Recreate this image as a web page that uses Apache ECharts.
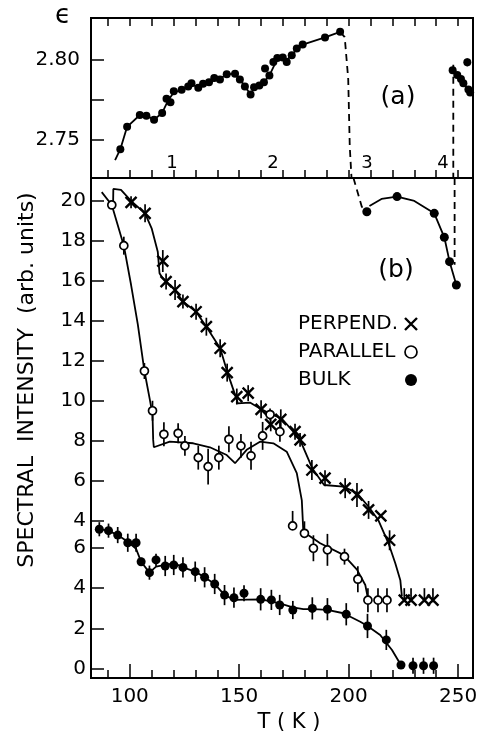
<!DOCTYPE html>
<html>
<head>
<meta charset="utf-8">
<script src="https://cdn.jsdelivr.net/npm/echarts@6/dist/echarts.min.js"></script>
<style>
html, body { margin: 0; padding: 0; background: #fff; }
#chart { width: 478px; height: 731px; }
</style>
</head>
<body>
<div id="chart"></div>
<script>
// axis ticks / labels
const tTicks = [90, 100, 110, 120, 130, 140, 150, 160, 170, 180, 190, 200, 210, 220, 230, 240, 250]
const tLabels = [100, 150, 200, 250]
const epsTicks = [2.75, 2.775, 2.80]
const epsLabels = [2.75, 2.80]
const upperTicks = [4, 6, 8, 10, 12, 14, 16, 18, 20]
const lowerTicks = [0, 2, 4, 6]

// (a) dielectric constant  [T, eps]
const epsData = [[95.7, 2.7439], [98.8, 2.758], [104.6, 2.7654], [107.6, 2.765], [111.1, 2.7625], [114.8, 2.7667],
  [116.8, 2.7756], [118.6, 2.7734], [120.1, 2.7804], [123.7, 2.7813], [126.7, 2.7834], [128.2, 2.7854], [131.3, 2.7825],
  [133.5, 2.785], [136.2, 2.786], [138.6, 2.7886], [141.2, 2.7878], [144.3, 2.791], [148.1, 2.7914], [150.3, 2.7878],
  [152.6, 2.7834], [155.2, 2.7783], [156.8, 2.7829], [159.2, 2.784], [161.3, 2.786], [161.8, 2.7946], [163.8, 2.7903],
  [165.6, 2.7987], [167.4, 2.8013], [169.9, 2.8015], [171.7, 2.7987], [174, 2.803], [176.3, 2.8072], [179, 2.8097],
  [189.2, 2.8142], [196.1, 2.8177]]
const epsCurve = [[93.3, 2.737], [95.7, 2.7439], [98.8, 2.758], [104.6, 2.7654], [107.6, 2.765], [111.1, 2.7625],
  [114.8, 2.7667], [117.5, 2.7745], [120.1, 2.7795], [123.7, 2.7813], [128.2, 2.7845], [131.3, 2.783], [136.2, 2.786],
  [141.2, 2.7882], [144.3, 2.791], [148.1, 2.7914], [150.3, 2.7878], [152.6, 2.7834], [155.2, 2.7783], [156.8, 2.7825],
  [161.3, 2.786], [163.8, 2.7903], [167.4, 2.8005], [169.9, 2.8012], [171.7, 2.8], [174, 2.803], [176.3, 2.8068],
  [179, 2.8097], [189.2, 2.8142], [196.1, 2.8177]]
// region 4 [T, eps, err]
const eps4Data = [[247.5, 2.7935, 0.002], [249.6, 2.7905, 0.002], [251.3, 2.788, 0.002], [252.4, 2.7853, 0.002],
  [254.2, 2.7985, 0.0025], [254.7, 2.7815, 0.002], [255.5, 2.7796, 0.002]]
const eps4Curve = [[247.5, 2.7935], [249.6, 2.7905], [251.3, 2.788], [252.4, 2.7853], [254.7, 2.7815], [255.5, 2.7796]]
const dashA1 = [[196.1, 2.8177], [198.2, 2.8144], [199.8, 2.788], [200.5, 2.7458], [201.3, 2.7258]]
const dashA2 = [[247.8, 2.797], [247.8, 2.7258]]

// (b) spectral intensity, upper scale  [T, I, errDown, errUp]
const perpData = [[100.6, 19.93, 0.3, 0.3], [107.0, 19.38, 0.45, 0.45], [115.1, 16.99, 0.55, 0.55], [116.6, 15.96, 0.4, 0.4],
  [120.7, 15.54, 0.5, 0.5], [124.3, 14.96, 0.35, 0.35], [130.3, 14.45, 0.4, 0.4], [135.0, 13.7, 0.45, 0.45],
  [141.3, 12.62, 0.45, 0.45], [144.5, 11.4, 0.45, 0.45], [148.9, 10.2, 0.4, 0.4], [154.1, 10.37, 0.4, 0.4],
  [160.0, 9.56, 0.45, 0.45], [164.4, 8.81, 0.35, 0.35], [169.0, 9.06, 0.5, 0.5], [175.5, 8.44, 0.4, 0.4],
  [177.8, 8.03, 0.35, 0.35], [183.2, 6.52, 0.5, 0.5], [189.2, 6.11, 0.4, 0.4], [198.4, 5.61, 0.5, 0.5],
  [203.8, 5.27, 0.6, 0.6], [209.1, 4.52, 0.45, 0.45], [214.7, 4.22, 0, 0], [218.7, 3.0, 0.5, 0.5],
  [225.4, 0.0, 0.1, 0.6], [228.5, 0.0, 0.1, 0.6], [234.6, 0.0, 0.1, 0.6], [238.5, 0.0, 0.1, 0.6]]
const perpCurve = [[92.4, 19.9], [92.5, 20.6], [96, 20.55], [100.6, 20.0], [107, 19.38], [110, 18.63], [112.8, 17.46],
  [113.6, 16.38], [114.6, 16.2], [116.6, 15.96], [120.7, 15.54], [124.3, 14.96], [130.3, 14.45], [135, 13.7],
  [141.3, 12.62], [144.5, 11.45], [149.1, 9.97], [149.3, 9.86], [154.9, 9.9], [159.5, 9.6], [164.5, 9.32],
  [169.4, 9.1], [174.7, 8.44], [177.8, 8.03], [183.4, 6.6], [188.8, 5.77], [189.7, 5.69], [197.6, 5.69],
  [203.8, 5.36], [209.1, 4.68], [213.6, 4.0], [218.2, 2.85], [221.3, 1.85], [223.6, 1.0], [224.3, 0.2]]

const parData = [[91.8, 19.8, 0, 0], [97.3, 17.76, 0.45, 0.45], [106.7, 11.48, 0.4, 0.4], [110.4, 9.49, 0.5, 0.5],
  [115.6, 8.31, 0.6, 0.6], [122.1, 8.36, 0.5, 0.5], [125.2, 7.73, 0.5, 0.5], [131.3, 7.14, 0.6, 0.6],
  [135.8, 6.69, 0.9, 0.9], [140.7, 7.14, 0.6, 0.6], [145.3, 8.06, 0.65, 0.65], [150.8, 7.73, 0.6, 0.6],
  [155.4, 7.23, 0.7, 0.7], [160.7, 8.23, 0.7, 0.7], [164.1, 9.3, 0.3, 0.3], [168.6, 8.44, 0.5, 0.5],
  [174.4, 3.72, 0, 0.75], [179.8, 3.35, 0, 0.6], [183.9, 2.6, 0.65, 0.65], [190.3, 2.52, 0.8, 0.8],
  [198.1, 2.18, 0.4, 0.4], [204.2, 1.05, 0.65, 0.65], [208.8, 0.0, 0.6, 0.6], [213.4, 0.0, 0.6, 0.6],
  [217.5, 0.0, 0.6, 0.6]]
const parCurve = [[87.2, 20.44], [91.8, 19.8], [97.3, 17.76], [100.6, 15.8], [103.7, 13.8], [106.7, 11.48],
  [109.2, 10.03], [110.4, 9.3], [110.7, 8.03], [111, 7.66], [118.3, 7.94], [129, 7.86], [136.6, 7.66],
  [144.3, 7.27], [148.1, 6.86], [153.4, 7.53], [159.5, 7.94], [165.6, 7.86], [171.7, 7.44], [176.3, 6.36],
  [178.6, 5.0], [179.3, 3.43], [187, 2.85], [197.6, 2.27], [203.8, 1.53], [207.6, 0.76], [208.6, 0.2]]

// bulk points drawn on the upper scale (top right)
const bulkHigh = [[208.3, 19.46], [222.1, 20.22], [239.1, 19.38], [243.7, 18.18], [246.1, 16.96], [249.2, 15.79]]
const bulkHighCurve = [[209.5, 19.75], [215, 20.1], [222.1, 20.22], [230, 20.0], [239.1, 19.38], [243.7, 18.18],
  [246.1, 16.96], [249.2, 15.79]]
const dashB1 = [[202.2, 21.15], [206, 19.71], [207.4, 19.55]]
const dashB2 = [[248.4, 21.15], [248.4, 16.8]]

// bulk, lower scale [T, I, err]
const bulkData = [[86.1, 6.92, 0.35], [90.3, 6.85, 0.35], [94.5, 6.63, 0.4], [99.1, 6.25, 0.45], [102.9, 6.25, 0.45],
  [105.2, 5.31, 0.2], [109.0, 4.77, 0.35], [112.0, 5.4, 0.3], [116.2, 5.1, 0.5], [120.1, 5.15, 0.5],
  [124.3, 5.03, 0.5], [129.9, 4.82, 0.5], [134.2, 4.54, 0.5], [138.8, 4.21, 0.5], [143.3, 3.66, 0.5],
  [147.6, 3.53, 0.5], [152.2, 3.75, 0.4], [159.8, 3.45, 0.55], [164.7, 3.42, 0.5], [168.5, 3.17, 0.5],
  [174.5, 2.92, 0.45], [183.4, 3.0, 0.55], [190.3, 2.96, 0.55], [198.9, 2.71, 0.55], [208.6, 2.13, 0.6],
  [217.2, 1.44, 0.5], [223.9, 0.2, 0], [229.4, 0.16, 0.4], [234.2, 0.16, 0.4], [238.8, 0.16, 0.4]]
const bulkCurve = [[86.1, 6.92], [90.3, 6.85], [94.5, 6.63], [99.1, 6.3], [102.9, 5.95], [105.2, 5.31], [109, 4.77],
  [112, 5.07], [116.2, 5.15], [120.4, 5.23], [124.3, 5.03], [129.9, 4.82], [134.2, 4.54], [138.8, 4.21],
  [143.3, 3.66], [147.9, 3.42], [160.1, 3.45], [168.5, 3.25], [174.5, 3.05], [179.3, 2.96], [183.9, 2.96],
  [190.3, 2.93], [197.6, 2.76], [205.3, 2.34], [208.6, 2.13], [214.4, 1.68], [219.8, 0.94], [223.6, 0.25]]

const FONT = 'DejaVu Sans'
const X_ICON = 'path://M0,0L10,10M10,0L0,10'

const chart = echarts.init(document.querySelector('#chart'))

function xAx(grid, pos, ticks, len, withLabels) {
  return {
    type: 'value', gridIndex: grid, position: pos, min: 82.3, max: 256.8,
    axisLine: { show: false, onZero: false },
    splitLine: { show: false },
    axisTick: { inside: true, length: len, customValues: ticks, lineStyle: { color: '#000', width: 1.5 } },
    axisLabel: withLabels
      ? { customValues: tLabels, margin: 9, color: '#000', fontFamily: FONT, fontSize: 20 }
      : { show: false },
  }
}
function yAx(grid, min, max, ticks, labels, fmt, margin) {
  return {
    type: 'value', gridIndex: grid, position: 'left', min: min, max: max,
    axisLine: { show: false, onZero: false },
    splitLine: { show: false },
    axisTick: { inside: true, length: 13, customValues: ticks, lineStyle: { color: '#000', width: 1.5 } },
    axisLabel: { customValues: labels, formatter: fmt, margin: margin, color: '#000', fontFamily: FONT, fontSize: 20 },
  }
}

function errBars(data, xi, yi) {
  return {
    type: 'custom', xAxisIndex: xi, yAxisIndex: yi, data: data, silent: true, z: 2,
    encode: { x: 0, y: 1 },
    renderItem: (params, api) => {
      const t = api.value(0), v = api.value(1)
      const lo = api.value(2), hi = api.value(3)
      const p1 = api.coord([t, v - lo])
      const p2 = api.coord([t, v + hi])
      return { type: 'line', shape: { x1: p1[0], y1: p1[1], x2: p2[0], y2: p2[1] }, style: { stroke: '#000', lineWidth: 1.7 } }
    },
  }
}
function curve(data, xi, yi, dashed) {
  return {
    type: 'line', xAxisIndex: xi, yAxisIndex: yi, data: data, showSymbol: false, silent: true, z: 3,
    lineStyle: { color: '#000', width: 1.8, type: dashed ? [7, 5] : 'solid' },
  }
}
function marks(name, data, xi, yi, symbol, size, style) {
  return {
    name: name, type: 'scatter', xAxisIndex: xi, yAxisIndex: yi, data: data.map(d => [d[0], d[1]]),
    symbol: symbol, symbolSize: size, z: 4, itemStyle: style,
  }
}

const solid = { color: '#000', opacity: 1 }
const hollow = { color: '#fff', borderColor: '#000', borderWidth: 1.7, opacity: 1 }
const cross = { color: 'transparent', borderColor: '#000', borderWidth: 2.4, opacity: 1 }

chart.setOption({
  animation: false,
  grid: [
    { left: 91, top: 18, width: 382, height: 160, show: true, borderColor: '#000', borderWidth: 2,
      backgroundColor: 'transparent', outerBoundsMode: 'none', containLabel: false },
    { left: 91, top: 178, width: 382, height: 500, show: true, borderColor: '#000', borderWidth: 2,
      backgroundColor: 'transparent', outerBoundsMode: 'none', containLabel: false },
  ],
  xAxis: [
    xAx(0, 'bottom', tTicks, 8, false),
    xAx(0, 'top', tTicks, 8, false),
    xAx(1, 'bottom', tTicks, 8, false),
    Object.assign(xAx(1, 'bottom', tLabels, 14, true), {
      name: 'T ( K )', nameLocation: 'middle', nameGap: 34,
      nameTextStyle: { color: '#000', fontFamily: FONT, fontSize: 21, padding: [0, 0, 0, 14] },
    }),
  ],
  yAxis: [
    yAx(0, 2.7258, 2.8264, epsTicks, epsLabels, v => v.toFixed(2), 11),
    yAx(1, -3.9, 21.15, upperTicks, upperTicks, v => String(v), 5),
    yAx(1, -0.446, 24.31, lowerTicks, lowerTicks, v => String(v), 5),
  ],
  legend: {
    orient: 'vertical', left: 293, top: 309, align: 'right', itemGap: 8, itemWidth: 12, itemHeight: 12,
    selectedMode: false,
    formatter: name => '{t|' + name + '}',
    textStyle: {
      color: '#000', fontFamily: FONT, fontSize: 20,
      rich: { t: { width: 102, align: 'left', fontFamily: FONT, fontSize: 20, color: '#000', lineHeight: 20 } },
    },
    data: [
      { name: 'PERPEND.', icon: X_ICON, itemStyle: { color: 'transparent', borderColor: '#000', borderWidth: 2.4 } },
      { name: 'PARALLEL', icon: 'circle', itemStyle: { color: '#fff', borderColor: '#000', borderWidth: 1.7 } },
      { name: 'BULK', icon: 'circle', itemStyle: { color: '#000', borderWidth: 0 } },
    ],
  },
  graphic: [
    { type: 'text', x: 63, y: 16, style: { text: 'ϵ', fontFamily: FONT, fontSize: 26, fill: '#000', align: 'center', verticalAlign: 'middle' } },
    { type: 'text', x: 398, y: 97, style: { text: '(a)', fontFamily: FONT, fontSize: 25, fill: '#000', align: 'center', verticalAlign: 'middle' } },
    { type: 'text', x: 396, y: 270, style: { text: '(b)', fontFamily: FONT, fontSize: 25, fill: '#000', align: 'center', verticalAlign: 'middle' } },
    { type: 'text', x: 172, y: 163, style: { text: '1', fontFamily: FONT, fontSize: 18, fill: '#000', align: 'center', verticalAlign: 'middle' } },
    { type: 'text', x: 273, y: 163, style: { text: '2', fontFamily: FONT, fontSize: 18, fill: '#000', align: 'center', verticalAlign: 'middle' } },
    { type: 'text', x: 367, y: 163, style: { text: '3', fontFamily: FONT, fontSize: 18, fill: '#000', align: 'center', verticalAlign: 'middle' } },
    { type: 'text', x: 443, y: 163, style: { text: '4', fontFamily: FONT, fontSize: 18, fill: '#000', align: 'center', verticalAlign: 'middle' } },
    { type: 'text', x: 27, y: 380, rotation: Math.PI / 2,
      style: { text: 'SPECTRAL  INTENSITY  (arb. units)', fontFamily: FONT, fontSize: 22, fill: '#000', align: 'center', verticalAlign: 'middle' } },
  ],
  series: [
    // panel (a)
    curve(epsCurve, 0, 0),
    curve(eps4Curve, 0, 0),
    curve(dashA1, 0, 0, true),
    curve(dashA2, 0, 0, true),
    errBars(eps4Data.map(d => [d[0], d[1], d[2], d[2]]), 0, 0),
    marks('eps', epsData, 0, 0, 'circle', 8, solid),
    marks('eps4', eps4Data, 0, 0, 'circle', 8, solid),
    // panel (b) upper scale
    curve(perpCurve, 2, 1),
    curve(parCurve, 2, 1),
    curve(bulkHighCurve, 2, 1),
    curve(dashB1, 2, 1, true),
    curve(dashB2, 2, 1, true),
    errBars(perpData, 2, 1),
    errBars(parData, 2, 1),
    marks('PERPEND.', perpData, 2, 1, X_ICON, 11, cross),
    marks('PARALLEL', parData, 2, 1, 'circle', 8, hollow),
    marks('BULK', bulkHigh, 2, 1, 'circle', 9, solid),
    // panel (b) lower scale
    curve(bulkCurve, 2, 2),
    errBars(bulkData.map(d => [d[0], d[1], d[2], d[2]]), 2, 2),
    marks('BULK', bulkData, 2, 2, 'circle', 9, solid),
  ],
})
</script>
</body>
</html>
